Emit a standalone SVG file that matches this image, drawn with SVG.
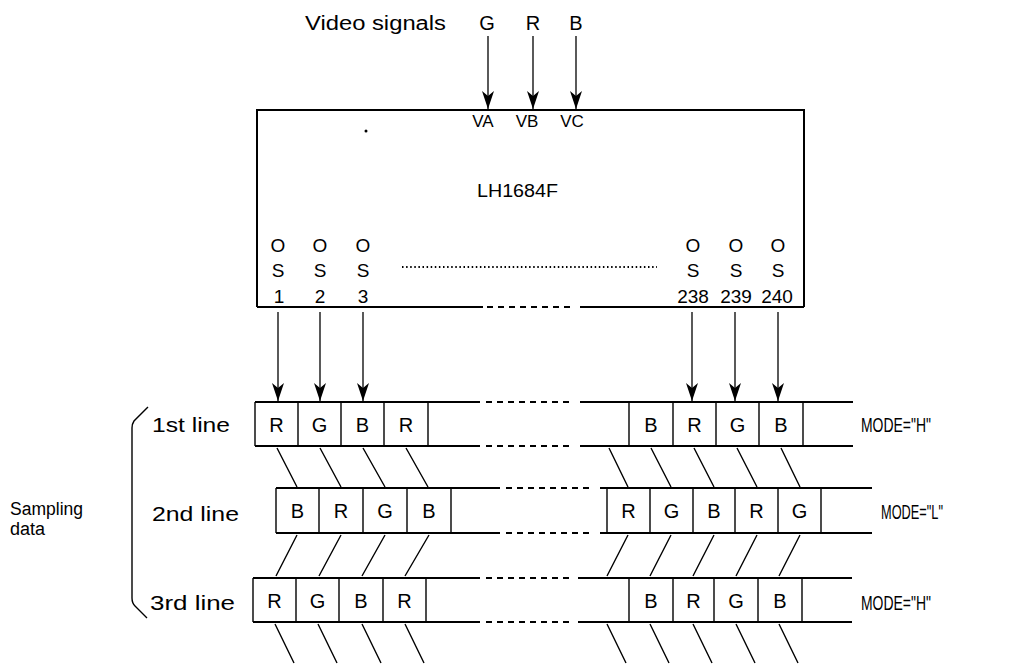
<svg xmlns="http://www.w3.org/2000/svg" width="1023" height="664" viewBox="0 0 1023 664">
<defs>
<marker id="ah" markerUnits="userSpaceOnUse" markerWidth="20" markerHeight="14" refX="18" refY="7" orient="auto">
<path d="M18,7 L0,1 L5,7 L0,13 Z" fill="#000"/>
</marker>
<style>
text{font-family:"Liberation Sans",Arial,sans-serif;fill:#000}
.t20{font-size:20px}
.t19{font-size:19px}
.t18{font-size:18px}
.t17{font-size:17px}
.t16{font-size:16px}
.m{text-anchor:middle}
.ln{stroke:#000;stroke-width:2;fill:none}
.thin{stroke:#000;stroke-width:1.4;fill:none}
.dash{stroke:#000;stroke-width:2;fill:none;stroke-dasharray:6 5}
.dot{stroke:#000;stroke-width:2;fill:none;stroke-dasharray:1.5 2.6}
.arr{stroke:#000;stroke-width:1.3;fill:none;marker-end:url(#ah)}
</style>
</defs>
<rect width="1023" height="664" fill="#fff"/>

<g id="video-signals">
<text class="t20" x="305" y="30" textLength="141" lengthAdjust="spacingAndGlyphs">Video signals</text>
<text class="t20 m" x="487" y="30">G</text>
<text class="t20 m" x="533" y="30">R</text>
<text class="t20 m" x="576" y="30">B</text>
</g>

<g id="chip-LH1684F">
<path class="ln" d="M257,307 L257,110 L804,110 L804,307"/>
<path class="ln" d="M257,307 L483,307 M580,307 L804,307"/>
<path class="dash" d="M487,307 L573,307"/>
<circle cx="366" cy="131" r="1.5" fill="#000"/>
<text class="t17 m" x="483" y="127">VA</text>
<text class="t17 m" x="527" y="127">VB</text>
<text class="t17 m" x="572" y="127">VC</text>
<text class="t18" x="477" y="197" textLength="81" lengthAdjust="spacingAndGlyphs">LH1684F</text>
<g class="t19">
<text class="m" x="278" y="252">O</text><text class="m" x="278" y="277">S</text><text class="m" x="279" y="303">1</text>
<text class="m" x="320" y="252">O</text><text class="m" x="320" y="277">S</text><text class="m" x="320" y="303">2</text>
<text class="m" x="363" y="252">O</text><text class="m" x="363" y="277">S</text><text class="m" x="363" y="303">3</text>
<text class="m" x="693" y="252">O</text><text class="m" x="693" y="277">S</text><text class="m" x="693" y="303">238</text>
<text class="m" x="736" y="252">O</text><text class="m" x="736" y="277">S</text><text class="m" x="736" y="303">239</text>
<text class="m" x="778" y="252">O</text><text class="m" x="778" y="277">S</text><text class="m" x="777" y="303">240</text>
</g>
<path class="dot" d="M402,267 L657,267"/>
</g>

<g id="connectors">
<line class="arr" x1="488" y1="36" x2="488" y2="109"/>
<line class="arr" x1="533" y1="36" x2="533" y2="109"/>
<line class="arr" x1="576" y1="36" x2="576" y2="109"/>
<line class="arr" x1="278" y1="312" x2="278" y2="401"/>
<line class="arr" x1="320" y1="312" x2="320" y2="401"/>
<line class="arr" x1="363" y1="312" x2="363" y2="401"/>
<line class="arr" x1="692" y1="312" x2="692" y2="401"/>
<line class="arr" x1="735" y1="312" x2="735" y2="401"/>
<line class="arr" x1="778" y1="312" x2="778" y2="401"/>
<g class="thin">
<path d="M277,448 L297,487 M320,448 L341,487 M363,448 L385,487 M406,448 L428,487"/>
<path d="M609,448 L628,487 M651,448 L671,487 M694,448 L714,487 M737,448 L757,487 M781,448 L800,487"/>
<path d="M297,535 L276,576 M341,535 L319,576 M385,535 L362,576 M429,535 L405,576"/>
<path d="M628,535 L607,576 M671,535 L650,576 M714,535 L693,576 M757,535 L736,576 M800,535 L779,576"/>
<path d="M275,624 L294,663 M318,624 L337,663 M362,624 L381,663 M405,624 L424,663"/>
<path d="M607,624 L626,663 M650,624 L669,663 M693,624 L712,663 M736,624 L755,663 M779,624 L798,663"/>
</g>
</g>

<g id="sampling-data">
<path class="thin" d="M148,407 L134,421 Q132,424 132,428 L132,598 Q132,603 135,606 L147,618"/>
<text class="t18" x="10" y="515" textLength="73" lengthAdjust="spacingAndGlyphs">Sampling</text>
<text class="t18" x="10" y="535">data</text>
</g>

<g id="line1">
<text class="t20" x="152" y="432" textLength="78" lengthAdjust="spacingAndGlyphs">1st line</text>
<path class="ln" d="M255,402 L480,402 M580,402 L853,402 M255,446 L480,446 M580,446 L853,446"/>
<path class="dash" d="M486,402 L574,402 M486,446 L574,446"/>
<path class="thin" d="M255,402 V446 M298,402 V446 M341,402 V446 M384,402 V446 M428,402 V446 M629,402 V446 M673,402 V446 M716,402 V446 M759,402 V446 M803,402 V446"/>
<g class="t20">
<text class="m" x="276.5" y="432">R</text><text class="m" x="319.5" y="432">G</text><text class="m" x="362.5" y="432">B</text><text class="m" x="406" y="432">R</text>
<text class="m" x="651" y="432">B</text><text class="m" x="694.5" y="432">R</text><text class="m" x="737.5" y="432">G</text><text class="m" x="781" y="432">B</text>
</g>
<text class="t20" x="861" y="432" textLength="70" lengthAdjust="spacingAndGlyphs">MODE="H"</text>
</g>

<g id="line2">
<text class="t20" x="152" y="521" textLength="87" lengthAdjust="spacingAndGlyphs">2nd line</text>
<path class="ln" d="M276,488 L500,488 M600,488 L872,488 M276,533 L500,533 M600,533 L872,533"/>
<path class="dash" d="M506,488 L594,488 M506,533 L594,533"/>
<path class="thin" d="M276,488 V533 M319,488 V533 M363,488 V533 M407,488 V533 M451,488 V533 M607,488 V533 M650,488 V533 M693,488 V533 M735,488 V533 M778,488 V533 M821,488 V533"/>
<g class="t20">
<text class="m" x="297.5" y="518">B</text><text class="m" x="341" y="518">R</text><text class="m" x="385" y="518">G</text><text class="m" x="429" y="518">B</text>
<text class="m" x="628.5" y="518">R</text><text class="m" x="671.5" y="518">G</text><text class="m" x="714" y="518">B</text><text class="m" x="756.5" y="518">R</text><text class="m" x="799.5" y="518">G</text>
</g>
<text class="t20" x="881" y="519" textLength="62" lengthAdjust="spacingAndGlyphs">MODE="L"</text>
</g>

<g id="line3">
<text class="t20" x="150" y="610" textLength="85" lengthAdjust="spacingAndGlyphs">3rd line</text>
<path class="ln" d="M253,578 L480,578 M578,578 L852,578 M253,622 L480,622 M578,622 L852,622"/>
<path class="dash" d="M486,578 L572,578 M486,622 L572,622"/>
<path class="thin" d="M253,578 V622 M296,578 V622 M339,578 V622 M383,578 V622 M426,578 V622 M629,578 V622 M673,578 V622 M714,578 V622 M758,578 V622 M802,578 V622"/>
<g class="t20">
<text class="m" x="274.5" y="608">R</text><text class="m" x="317.5" y="608">G</text><text class="m" x="361" y="608">B</text><text class="m" x="404.5" y="608">R</text>
<text class="m" x="651" y="608">B</text><text class="m" x="693.5" y="608">R</text><text class="m" x="736" y="608">G</text><text class="m" x="780" y="608">B</text>
</g>
<text class="t20" x="861" y="610" textLength="70" lengthAdjust="spacingAndGlyphs">MODE="H"</text>
</g>
</svg>
